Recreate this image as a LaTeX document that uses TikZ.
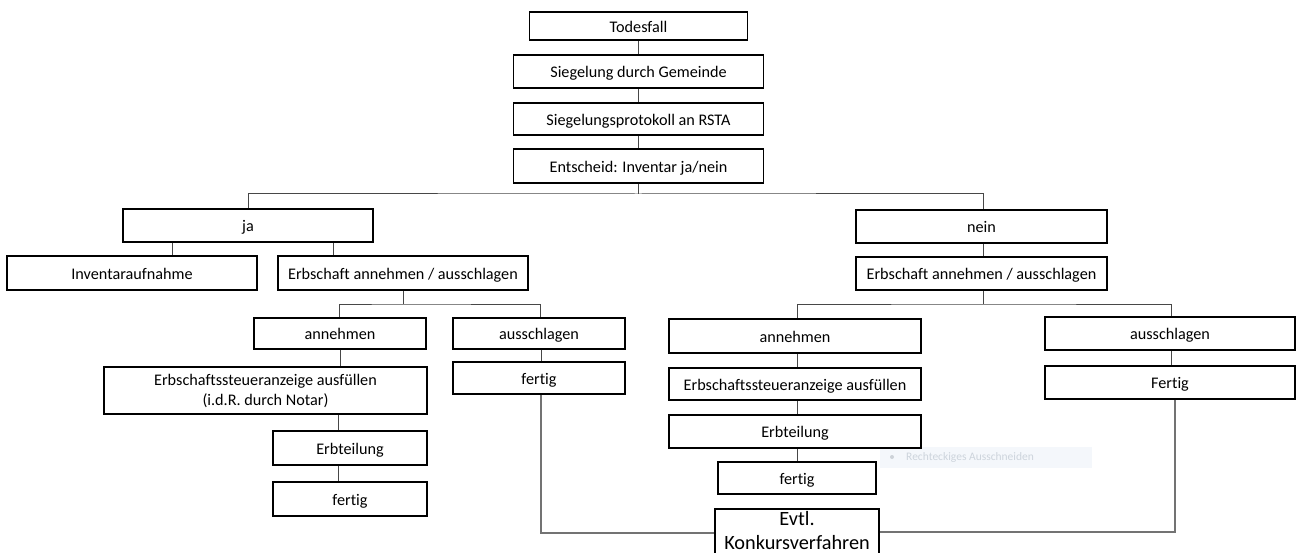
\documentclass[tikz,border=0pt]{standalone}
\usepackage{fontspec}
\setmainfont{Carlito}[Ligatures={NoCommon}]
\definecolor{wmfill}{RGB}{244,247,251}
\definecolor{wmdot}{RGB}{205,210,216}
\definecolor{wmtext}{RGB}{205,212,220}
\begin{document}
\begin{tikzpicture}[x=1pt,y=-1pt]
\tikzset{
  boxbase/.style={draw=black, line width=1.9pt, inner sep=0pt, align=center,
    font=\fontsize{16.2}{20}\selectfont, fill=white},
  box/.style={boxbase, text height=12.5pt, text depth=0pt},
  conn/.style={draw=black!72, line width=1pt},
  conn2/.style={draw=black!55, line width=1.3pt},
  konkfont/.style={font=\fontsize{20.3}{26}\selectfont, inner sep=0pt},
}
\useasboundingbox (0,0) rectangle (1297,553);
\clip (0,0) rectangle (1297,553);
\fill[white] (0,0) rectangle (1297,553);

% watermark artefact (screen-capture tooltip)
\node[fill=wmfill, draw=none, minimum width=212pt, minimum height=21pt, inner sep=0pt] (wm) at (986,457) {};
\fill[wmdot] (892,457) circle (2pt);
\node[anchor=west, inner sep=0pt, text=wmtext, font=\fontsize{11.5}{13}\selectfont] (wmt) at (906,457) {Rechteckiges Ausschneiden};

% nodes
\node[box, minimum width=218pt, minimum height=28pt] (tod) at (638.5,26) {Todesfall};
\node[box, minimum width=250pt, minimum height=33pt] (sieg) at (638.5,71.5) {Siegelung durch Gemeinde};
\node[box, minimum width=250pt, minimum height=32pt] (prot) at (638.5,119) {Siegelungsprotokoll an RSTA};
\node[box, minimum width=250pt, minimum height=34pt] (ent) at (638.5,166) {Entscheid: Inventar ja/nein};

\node[box, minimum width=250pt, minimum height=33pt] (ja) at (248,225.5) {ja};
\node[box, minimum width=251pt, minimum height=33pt] (nein) at (981.5,226.5) {nein};

\node[box, minimum width=250pt, minimum height=34pt] (inv) at (132,273) {Inventaraufnahme};
\node[box, minimum width=250pt, minimum height=34pt] (erbL) at (403,273) {Erbschaft annehmen / ausschlagen};
\node[box, minimum width=251pt, minimum height=33pt] (erbR) at (981.5,273.5) {Erbschaft annehmen / ausschlagen};

\node[box, minimum width=172pt, minimum height=31pt] (annL) at (340,333.5) {annehmen};
\node[box, minimum width=172pt, minimum height=31pt] (ausL) at (539,333.5) {ausschlagen};
\node[boxbase, minimum width=323pt, minimum height=47pt] (estL) at (265.5,390.5) {Erbschaftssteueranzeige ausfüllen\\(i.d.R. durch Notar)};
\node[box, minimum width=172pt, minimum height=32pt] (ferL2) at (539,378) {fertig};
\node[box, minimum width=154pt, minimum height=34pt] (teilL) at (350,448) {Erbteilung};
\node[box, minimum width=154pt, minimum height=34pt] (ferL) at (350,499) {fertig};

\node[box, minimum width=252pt, minimum height=34pt] (annR) at (795,336) {annehmen};
\node[box, minimum width=250pt, minimum height=33pt] (ausR) at (1170,333.5) {ausschlagen};
\node[box, minimum width=250pt, minimum height=33pt] (ferR2) at (1170,382.5) {Fertig};
\node[box, minimum width=252pt, minimum height=32pt] (estR) at (795,384) {Erbschaftssteueranzeige ausfüllen};
\node[box, minimum width=252pt, minimum height=33pt] (teilR) at (795,431.5) {Erbteilung};
\node[box, minimum width=158pt, minimum height=32pt] (ferR) at (797,478) {fertig};

\node[boxbase, minimum width=164pt, minimum height=56pt] (konk) at (797,537) {};
\node[konkfont, anchor=base] (konk1) at (konk.north |- 0,525) {Evtl.};
\node[konkfont, anchor=base] (konk2) at (konk.north |- 0,549) {Konkursverfahren};

% connectors
\coordinate (s1) at (638.5,194);
\coordinate (s2) at (403,304);
\coordinate (s3) at (983,304);
\draw[conn] (tod.south) -- (sieg.north);
\draw[conn] (sieg.south) -- (prot.north);
\draw[conn] (prot.south) -- (ent.north);
\draw[conn] (ent.south) -- (s1);
\draw[conn] (ja.north) |- (s1) -| (nein.north -| s3);

\draw[conn] (ja.south -| 172,0) -- (inv.north -| 172,0);
\draw[conn] (ja.south -| 333,0) -- (erbL.north -| 333,0);

\draw[conn] (erbL.south) -- (s2);
\draw[conn] (annL.north -| 339,0) |- (s2) -| (ausL.north -| 540,0);
\draw[conn] (annL.south -| 340,0) -- (estL.north -| 340,0);
\draw[conn] (estL.south -| 338,0) -- (teilL.north -| 338,0);
\draw[conn] (teilL.south -| 338,0) -- (ferL.north -| 338,0);
\draw[conn] (ausL.south -| 541,0) -- (ferL2.north -| 541,0);

\draw[conn] (nein.south -| s3) -- (erbR.north -| s3);
\draw[conn] (erbR.south -| s3) -- (s3);
\draw[conn] (annR.north -| 797,0) |- (s3) -| (ausR.north -| 1171,0);
\draw[conn] (annR.south -| 797,0) -- (estR.north -| 797,0);
\draw[conn] (estR.south -| 797,0) -- (teilR.north -| 797,0);
\draw[conn] (teilR.south -| 797,0) -- (ferR.north -| 797,0);
\draw[conn] (ausR.south -| 1171,0) -- (ferR2.north -| 1171,0);

\draw[conn2] (ferL2.south -| 541,0) |- (konk.west |- 0,533);
\draw[conn2] (ferR2.south -| 1175,0) |- (konk.east |- 0,532);
\end{tikzpicture}
\end{document}
